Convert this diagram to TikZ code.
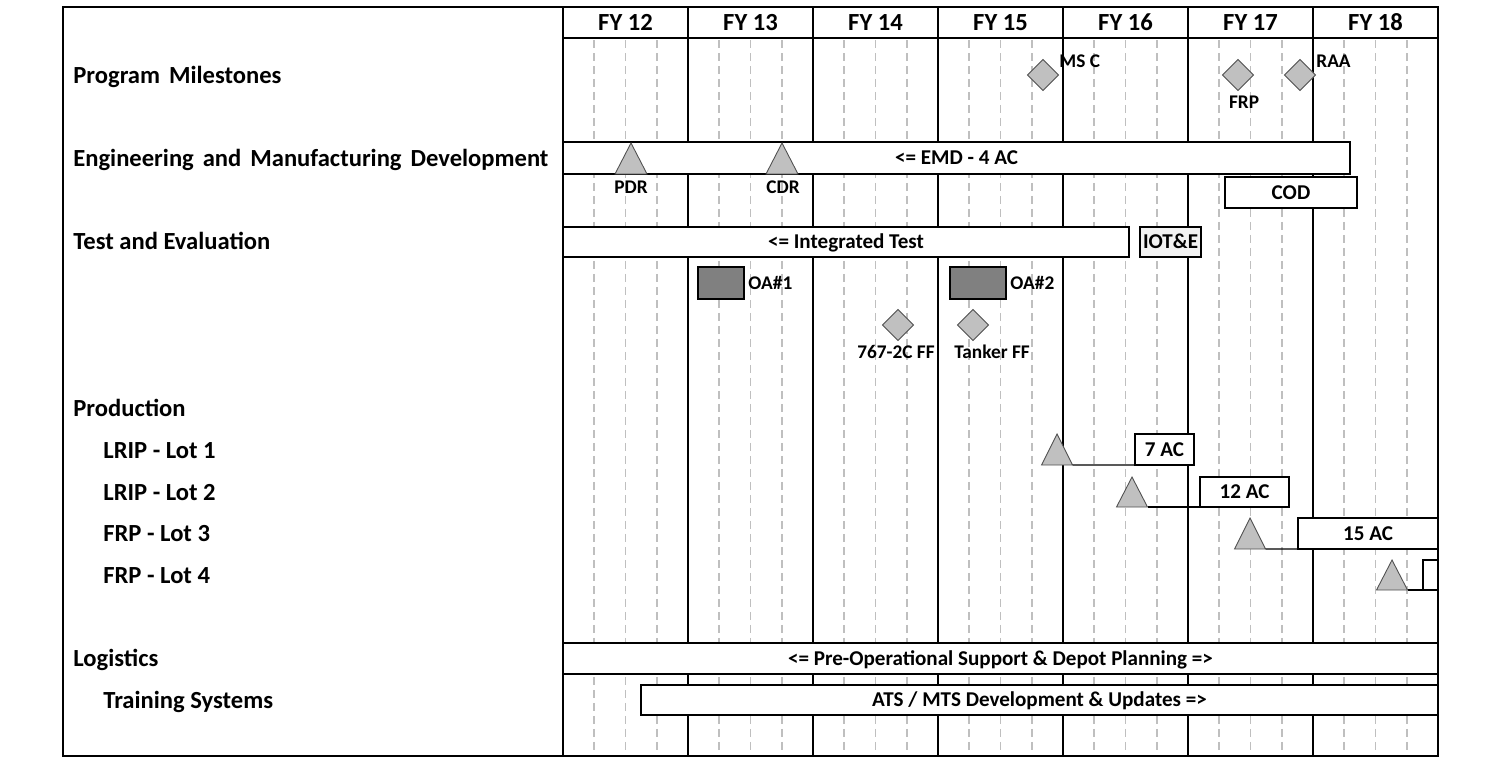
\documentclass[tikz,border=0pt]{standalone}
\usepackage{fontspec}
\setmainfont{Carlito}
\usetikzlibrary{shapes.geometric}
\definecolor{gridgray}{RGB}{191,191,191}
\definecolor{markfill}{RGB}{192,192,192}
\definecolor{markline}{RGB}{80,80,80}
\definecolor{oafill}{RGB}{128,128,128}
\definecolor{iotfill}{RGB}{242,242,242}
\begin{document}
\begin{tikzpicture}[x=0.02cm,y=-0.02cm,
  frame/.style={line width=1.1pt},
  yearline/.style={line width=1.1pt},
  quarter/.style={draw=gridgray,line width=1.1pt,dash pattern=on 0.16cm off 0.1cm},
  hdr/.style={anchor=base,font=\fontsize{14}{16}\selectfont\bfseries,inner sep=0},
  rowlabel/.style={anchor=base west,font=\fontsize{14}{16}\selectfont\bfseries,inner sep=0},
  widespace/.style={execute at begin node={\spaceskip=5.1pt\relax}},
  span/.style 2 args={anchor=north west,minimum width={#1*0.02cm},minimum height={#2*0.02cm}},
  bar/.style={draw,fill=white,line width=0.6pt,inner sep=0,outer sep=0,text height=7.6pt,
    text depth=0pt,font=\fontsize{12}{14}\selectfont\bfseries},
  tag/.style={font=\fontsize{11}{13}\selectfont\bfseries,inner sep=0},
  milestone/.style={diamond,draw=markline,fill=markfill,minimum width=0.63cm,
    minimum height=0.63cm,inner sep=0,line width=0.5pt},
  tri/.style={draw=markline,fill=markfill,line width=0.5pt},
  oa/.style={draw,fill=oafill,line width=0.6pt,inner sep=0,outer sep=0},
  lotline/.style={line width=0.6pt},
]
\useasboundingbox (0,0) rectangle (1500,758);

% quarter lines
\foreach \y in {0,...,6}
  \foreach \q in {1,2,3}
    \draw[quarter] ({563+125*\y+31.25*\q},40) -- ({563+125*\y+31.25*\q},756);

% year separators and header rule
\foreach \y in {0,...,6}
  \draw[yearline] ({563+125*\y},7) -- ({563+125*\y},756);
\draw[yearline] (563,38) -- (1438,38);

% fiscal-year headings
\foreach \n [count=\i from 0] in {12,...,18}
  \node[hdr] (fy\n) at ({625.5+125*\i},30) {FY \n};

% row labels
\node[rowlabel,widespace] (lblpm)  at (73,83)  {Program Milestones};
\node[rowlabel,widespace] (lblemd) at (73,166) {Engineering and Manufacturing Development};
\node[rowlabel] (lblte)  at (73,249) {Test and Evaluation};
\node[rowlabel] (lblpr)  at (73,416) {Production};
\node[rowlabel] (lbll1)  at (103,458) {LRIP - Lot 1};
\node[rowlabel] (lbll2)  at (103,500) {LRIP - Lot 2};
\node[rowlabel] (lbll3)  at (103,541) {FRP - Lot 3};
\node[rowlabel] (lbll4)  at (103,583) {FRP - Lot 4};
\node[rowlabel] (lbllog) at (73,666) {Logistics};
\node[rowlabel] (lbltr)  at (103,708) {Training Systems};

% program milestones
\node[milestone] (msc) at (1043,75) {};
\node[tag,anchor=base west] (msctxt) at (1059,67) {MS C};
\node[milestone] (frp) at (1238,75) {};
\node[tag,anchor=base] (frptxt) at (1244,108) {FRP};
\node[milestone] (raa) at (1300,75) {};
\node[tag,anchor=base west] (raatxt) at (1316,67) {RAA};

% EMD
\node[bar,span={787}{32}] (emd) at (563,142) {<= EMD - 4 AC};
\coordinate (pdrtop) at (631,143);
\draw[tri] (pdrtop) -- ++(16,31) -- ++(-32,0) -- cycle;
\node[tag,anchor=base] (pdrtxt) at (631,193) {PDR};
\coordinate (cdrtop) at (782,143);
\draw[tri] (cdrtop) -- ++(16,31) -- ++(-32,0) -- cycle;
\node[tag,anchor=base] (cdrtxt) at (783,193) {CDR};
\node[bar,span={132}{31}] (cod) at (1225,177) {COD};

% test and evaluation
\node[bar,span={566}{30}] (itest) at (563,227) {<= Integrated Test};
\node[bar,fill=iotfill,span={61}{30}] (iote) at (1140,227) {IOT\&E};
\node[oa,span={46}{32}] (oa1) at (698,267) {};
\node[tag,anchor=base west] (oa1txt) at (748,289) {OA\#1};
\node[oa,span={56}{32}] (oa2) at (950,267) {};
\node[tag,anchor=base west] (oa2txt) at (1010,289) {OA\#2};
\node[milestone] (ff767) at (898,325) {};
\node[tag,anchor=base] (ff767txt) at (896,358) {767-2C FF};
\node[milestone] (fftank) at (973,325) {};
\node[tag,anchor=base] (fftanktxt) at (992,358) {Tanker FF};

% production lots
\node[bar,span={59}{31}] (lot1) at (1135,434) {7 AC};
\coordinate (l1top) at (1057,434);
\draw[tri] (l1top) -- ++(15.5,31) coordinate (l1r) -- ++(-31,0) -- cycle;
\draw[lotline] (l1r) -- (lot1.south west);

\node[bar,span={89}{30}] (lot2) at (1200,477) {12 AC};
\coordinate (l2top) at (1132,477);
\draw[tri] (l2top) -- ++(15.5,30) coordinate (l2r) -- ++(-31,0) -- cycle;
\draw[lotline] (l2r) -- (lot2.south west);

\node[bar,span={140}{31}] (lot3) at (1298,518) {15 AC};
\coordinate (l3top) at (1250,518);
\draw[tri] (l3top) -- ++(15.5,31) coordinate (l3r) -- ++(-31,0) -- cycle;
\draw[lotline] (l3r) -- (lot3.south west);

\node[bar,span={15}{30}] (lot4) at (1423,560) {};
\coordinate (l4top) at (1392,560);
\draw[tri] (l4top) -- ++(15.5,30) coordinate (l4r) -- ++(-31,0) -- cycle;
\draw[lotline] (l4r) -- (lot4.south west);

% logistics
\node[bar,span={875}{31}] (log) at (563,643) {<= Pre-Operational Support \& Depot Planning =>};
\node[bar,span={797}{30}] (train) at (641,685) {ATS / MTS Development \& Updates =>};

% outer frame
\draw[frame] (63,7) rectangle (1438,756);
\end{tikzpicture}
\end{document}
